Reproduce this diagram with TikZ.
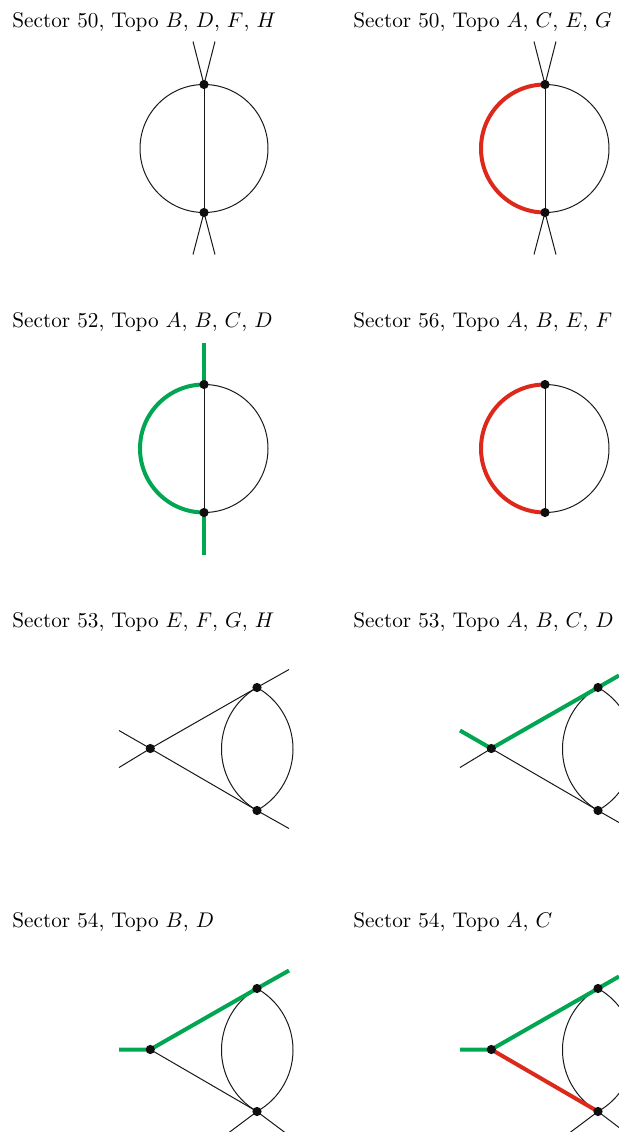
\documentclass[tikz,border=0pt]{standalone}
\usepackage{amsmath,amssymb}
\usetikzlibrary{backgrounds}
\definecolor{massgreen}{RGB}{0,166,81}
\definecolor{massred}{RGB}{221,41,28}
\definecolor{dotink}{RGB}{15,15,15}
\tikzset{
  sectorlabel/.style={anchor=base west, inner sep=0pt, scale=1.061, transform shape},
  vertexdot/.style={circle, fill=dotink, inner sep=0pt, minimum size=4.6pt},
  thinline/.style={black!90, line width=0.5pt},
  greenline/.style={massgreen, line width=2pt},
  redline/.style={massred, line width=2pt},
  halfleft/.style={start angle=-90, end angle=-270, radius=64},
  halfright/.style={start angle=-90, end angle=90, radius=64},
  lensleft/.style={start angle=-120, end angle=-240, radius=71},
  lensright/.style={start angle=-60.7, end angle=60.7, radius=70.5},
}

\begin{document}
\begin{tikzpicture}[x=0.5pt, y=-0.5pt]
  \useasboundingbox (0,-0.5) rectangle (619,1131.5);
  % labels
  \node[sectorlabel] (la) at (12,26.5) {Sector 50, Topo $B$, $D$, $F$, $H$};
  \node[sectorlabel] (lb) at (353,26.5) {Sector 50, Topo $A$, $C$, $E$, $G$};
  \node[sectorlabel] (lc) at (12,326.5) {Sector 52, Topo $A$, $B$, $C$, $D$};
  \node[sectorlabel] (ld) at (353,326.5) {Sector 56, Topo $A$, $B$, $E$, $F$};
  \node[sectorlabel] (le) at (12,626.5) {Sector 53, Topo $E$, $F$, $G$, $H$};
  \node[sectorlabel] (lf) at (353,626.5) {Sector 53, Topo $A$, $B$, $C$, $D$};
  \node[sectorlabel] (lg) at (12,926.5) {Sector 54, Topo $B$, $D$};
  \node[sectorlabel] (lh) at (353,926.5) {Sector 54, Topo $A$, $C$};
  % vertices
  \node[vertexdot] (at) at (204,84) {};
  \node[vertexdot] (ab) at (204,212) {};
  \node[vertexdot] (bt) at (545,84) {};
  \node[vertexdot] (bb) at (545,212) {};
  \node[vertexdot] (ct) at (204,384) {};
  \node[vertexdot] (cb) at (204,512) {};
  \node[vertexdot] (dt) at (545,384) {};
  \node[vertexdot] (db) at (545,512) {};
  \node[vertexdot] (ev) at (150.3,748) {};
  \node[vertexdot] (et) at (257,687) {};
  \node[vertexdot] (eb) at (257,810) {};
  \node[vertexdot] (fv) at (491.3,748) {};
  \node[vertexdot] (ft) at (598,687) {};
  \node[vertexdot] (fb) at (598,810) {};
  \node[vertexdot] (gv) at (150.3,1049) {};
  \node[vertexdot] (gt) at (257,988) {};
  \node[vertexdot] (gb) at (257,1111) {};
  \node[vertexdot] (hv) at (491.3,1049) {};
  \node[vertexdot] (ht) at (598,988) {};
  \node[vertexdot] (hb) at (598,1111) {};
  % free ends
  \coordinate (a1) at (193,41);
  \coordinate (a2) at (215,41);
  \coordinate (a3) at (193,254);
  \coordinate (a4) at (215,254);
  \coordinate (b1) at (534,41);
  \coordinate (b2) at (556,41);
  \coordinate (b3) at (534,254);
  \coordinate (b4) at (556,254);
  \coordinate (c1) at (204,342);
  \coordinate (c2) at (204,554);
  \coordinate (e1) at (119,730);
  \coordinate (e2) at (119,767);
  \coordinate (e3) at (289,669);
  \coordinate (e4) at (289,828);
  \coordinate (f1) at (460,730);
  \coordinate (f2) at (460,767);
  \coordinate (f3) at (619,675);
  \coordinate (f4) at (619,822);
  \coordinate (g1) at (119,1049);
  \coordinate (g2) at (289,970);
  \coordinate (g3) at (229,1132);
  \coordinate (g4) at (285,1132);
  \coordinate (h1) at (460,1049);
  \coordinate (h2) at (619,976);
  \coordinate (h3) at (570,1132);
  \coordinate (h4) at (619,1127);
  \begin{scope}[on background layer]
    % sector 50
    \draw[thinline] (at.center) arc[halfleft];
    \draw[thinline] (at.center) arc[halfright];
    \draw[thinline] (at.center) -- (ab.center);
    \draw[thinline] (a1) -- (at.center) -- (a2);
    \draw[thinline] (a3) -- (ab.center) -- (a4);
    \draw[redline] (bt.center) arc[halfleft];
    \draw[thinline] (bt.center) arc[halfright];
    \draw[thinline] (bt.center) -- (bb.center);
    \draw[thinline] (b1) -- (bt.center) -- (b2);
    \draw[thinline] (b3) -- (bb.center) -- (b4);
    % sector 52, 56
    \draw[greenline] (ct.center) arc[halfleft];
    \draw[thinline] (ct.center) arc[halfright];
    \draw[thinline] (ct.center) -- (cb.center);
    \draw[greenline] (c1) -- (ct.center);
    \draw[greenline] (cb.center) -- (c2);
    \draw[redline] (dt.center) arc[halfleft];
    \draw[thinline] (dt.center) arc[halfright];
    \draw[thinline] (dt.center) -- (db.center);
    % sector 53
    \draw[thinline] (et.center) arc[lensleft];
    \draw[thinline] (et.center) arc[lensright];
    \draw[thinline] (e1) -- (ev.center) -- (e2);
    \draw[thinline] (ev.center) -- (et.center) -- (e3);
    \draw[thinline] (ev.center) -- (eb.center) -- (e4);
    \draw[thinline] (ft.center) arc[lensleft];
    \draw[thinline] (ft.center) arc[lensright];
    \draw[thinline] (fv.center) -- (f2);
    \draw[thinline] (fv.center) -- (fb.center) -- (f4);
    \draw[greenline] (f1) -- (fv.center) -- (ft.center) -- (f3);
    % sector 54
    \draw[thinline] (gt.center) arc[lensleft];
    \draw[thinline] (gt.center) arc[lensright];
    \draw[thinline] (gv.center) -- (gb.center);
    \draw[thinline] (g3) -- (gb.center) -- (g4);
    \draw[greenline] (g1) -- (gv.center) -- (gt.center) -- (g2);
    \draw[thinline] (ht.center) arc[lensleft];
    \draw[thinline] (ht.center) arc[lensright];
    \draw[thinline] (h3) -- (hb.center) -- (h4);
    \draw[greenline] (h1) -- (hv.center) -- (ht.center) -- (h2);
    \draw[redline] (hv.center) -- (hb.center);
  \end{scope}
\end{tikzpicture}
\end{document}
